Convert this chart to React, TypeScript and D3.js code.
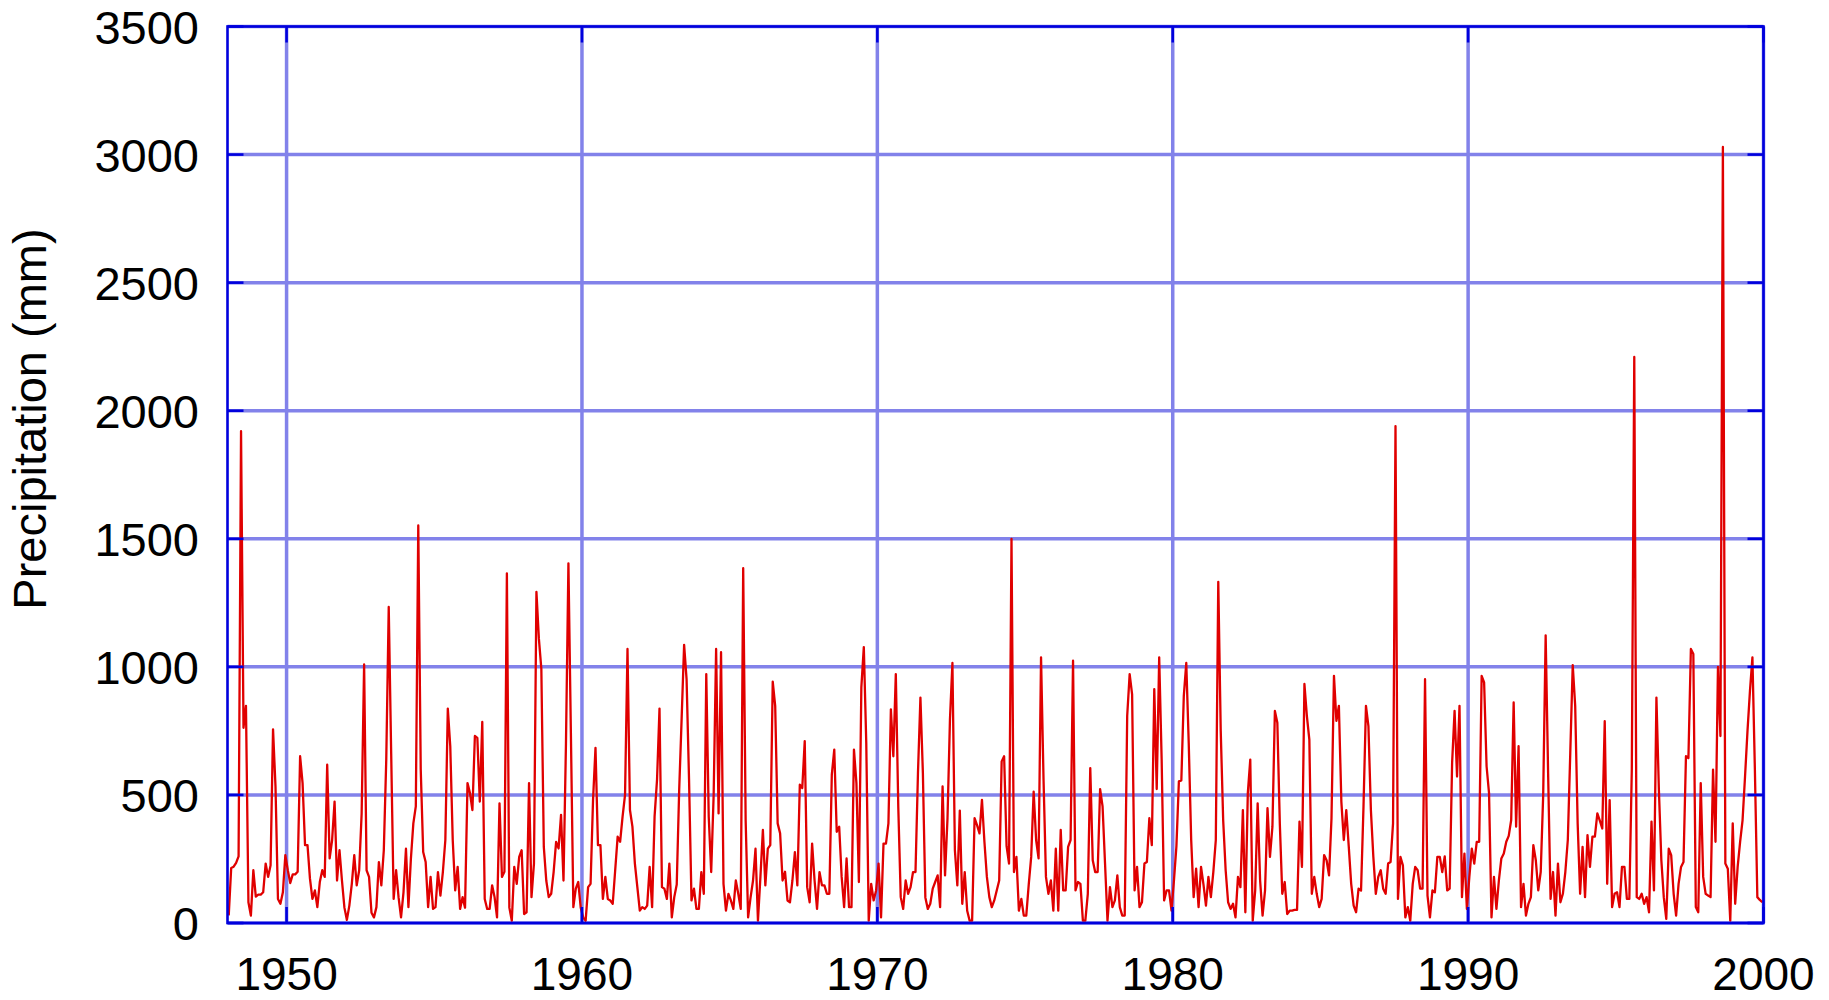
import React from "react";
import * as d3 from "d3";

// Monthly precipitation (mm), January 1948 .. December 1999
const precip1948s = [30,215,220,235,260,1920,762,848,81,29,206,103, 111,111,120,232,180,225,756,533,94,75,120,265];
const precip1950s = [
  206,156,190,190,200,651,546,304,304,173,94,127,
  62,160,206,180,618,252,324,474,166,284,166,60,
  12,68,153,265,147,206,428,1010,206,180,40,22,
  62,238,147,284,640,1234,660,94,206,100,22,120,
  290,62,250,389,455,1552,600,277,238,62,180,55,
  62,199,107,200,324,837,690,324,127,219,55,101,
  60,546,507,441,730,723,474,785,94,55,55,147,
  101,22,467,180,200,1365,60,9,219,153,258,284,
  35,42,546,101,232,1293,1110,992,297,166,101,114,
  200,317,291,422,166,700,1404,743,62,134,160,60
];
const precip1960s = [
  22,9,140,153,480,684,304,304,94,180,94,88,
  75,206,337,317,415,500,1070,441,376,232,140,48,
  62,55,68,219,62,415,560,837,140,134,94,232,
  22,101,150,520,800,1086,952,560,88,134,55,55,
  199,114,972,415,199,500,1070,428,1057,153,48,114,
  88,55,166,114,55,1385,400,22,100,166,290,9,
  180,363,147,290,304,942,848,389,350,166,200,88,
  81,166,277,147,540,527,710,140,81,310,166,55,
  199,147,147,114,114,579,677,356,376,180,62,252,
  62,62,677,546,160,920,1077,703,9,153,88,127
];
const precip1970s = [
  232,22,310,310,389,834,651,972,455,101,55,166,
  114,140,199,199,585,880,585,100,55,75,134,160,
  186,62,533,186,409,795,1015,284,147,439,75,199,
  48,9,9,409,382,350,481,317,180,101,62,88,
  127,166,631,651,300,232,1500,199,258,48,94,29,
  29,150,258,513,324,252,1037,566,180,114,166,48,
  290,48,363,127,127,297,324,1024,127,160,153,9,
  9,114,605,245,199,199,523,455,232,9,140,62,
  88,186,62,29,29,808,972,893,127,219,62,81,
  232,238,409,304,913,523,1037,638,88,127,127,48
];
const precip1980s = [
  166,300,553,557,887,1015,703,324,101,212,62,219,
  150,68,180,101,200,324,1332,750,400,206,81,55,
  75,22,180,140,441,42,507,638,9,127,467,166,
  29,127,448,258,376,828,782,389,114,160,35,48,
  48,51,51,396,219,933,808,716,114,180,114,62,
  94,265,245,186,409,965,789,848,474,324,441,300,
  153,68,42,134,127,455,848,769,441,258,114,180,
  206,134,114,232,238,389,1940,94,258,225,22,62,
  9,153,219,206,134,134,952,107,22,127,120,258,
  258,199,260,127,134,625,828,572,848,101,271,55
];
const precip1990s = [
  180,290,232,317,317,965,939,612,507,22,180,55,
  166,252,271,317,340,402,861,376,690,62,153,29,
  75,101,304,245,127,200,500,1123,585,94,199,29,
  232,81,114,200,324,664,1007,848,389,114,297,101,
  343,219,337,337,428,400,369,788,153,480,62,114,
  120,62,219,219,94,94,600,2210,101,94,114,75,
  101,42,396,127,880,520,245,100,16,290,265,114,
  29,153,219,238,651,644,1070,1050,62,42,546,180,
  114,107,101,599,317,1000,730,3030,232,212,9,389,
  75,219,317,402,572,750,906,1037,598,101,90,81
];

const startYear = 1948;
const xTicks = [1950, 1960, 1970, 1980, 1990, 2000];
const yTicks = [0, 500, 1000, 1500, 2000, 2500, 3000, 3500];
const yTitle = "Precipitation (mm)";

const W = 1829;
const H = 1000;
const FONT = "'Liberation Sans', Arial, Helvetica, sans-serif";

export default function App() {
  const values = [
    ...precip1948s,
    ...precip1950s,
    ...precip1960s,
    ...precip1970s,
    ...precip1980s,
    ...precip1990s,
  ];
  const data = values.map((v, i) => ({ t: startYear + (i + 0.5) / 12, v }));

  const left = 227.5, right = 1763.5, top = 26.5, bottom = 923;
  const x = d3.scaleLinear().domain([1948, 2000]).range([left, right]);
  const y = d3.scaleLinear().domain([0, 3500]).range([bottom, top]);

  const line = d3
    .line<{ t: number; v: number }>()
    .x((d) => x(d.t))
    .y((d) => y(d.v));

  const axisColor = "#0000dd";
  const gridColor = "#8282ea";
  const tickLen = 16;

  return (
    <svg
      width={W}
      height={H}
      style={{ position: "absolute", left: 0, top: 0, background: "#fff" }}
      fontFamily={FONT}
    >
      <rect x={0} y={0} width={W} height={H} fill="#ffffff" />
      {/* grid */}
      {yTicks.map((t) => (
        <line key={"gy" + t} x1={left} x2={right} y1={y(t)} y2={y(t)} stroke={gridColor} strokeWidth={3.5} />
      ))}
      {xTicks.map((t) => (
        <line key={"gx" + t} x1={x(t)} x2={x(t)} y1={top} y2={bottom} stroke={gridColor} strokeWidth={3.5} />
      ))}
      {/* data */}
      <path d={line(data) || ""} fill="none" stroke="#e00000" strokeWidth={2.3} strokeLinejoin="round" />
      {/* frame */}
      <rect x={left} y={top} width={right - left} height={bottom - top} fill="none" stroke={axisColor} strokeWidth={2.6} />
      {/* ticks */}
      {yTicks.map((t) => (
        <g key={"ty" + t}>
          <line x1={left} x2={left + tickLen} y1={y(t)} y2={y(t)} stroke={axisColor} strokeWidth={2.6} />
          <line x1={right - tickLen} x2={right} y1={y(t)} y2={y(t)} stroke={axisColor} strokeWidth={2.6} />
        </g>
      ))}
      {xTicks.map((t) => (
        <g key={"tx" + t}>
          <line x1={x(t)} x2={x(t)} y1={bottom} y2={bottom - tickLen} stroke={axisColor} strokeWidth={2.6} />
          <line x1={x(t)} x2={x(t)} y1={top} y2={top + tickLen} stroke={axisColor} strokeWidth={2.6} />
        </g>
      ))}
      {/* labels */}
      {yTicks.map((t) => (
        <text key={"ly" + t} x={199} y={y(t) + 17} textAnchor="end" fontSize={47} fill="#000">
          {t}
        </text>
      ))}
      {xTicks.map((t) => (
        <text key={"lx" + t} x={x(t)} y={990} textAnchor="middle" fontSize={46} fill="#000">
          {t}
        </text>
      ))}
      <text
        transform={`translate(46, 419) rotate(-90)`}
        textAnchor="middle"
        fontSize={47}
        fill="#000"
      >
        {yTitle}
      </text>
    </svg>
  );
}
